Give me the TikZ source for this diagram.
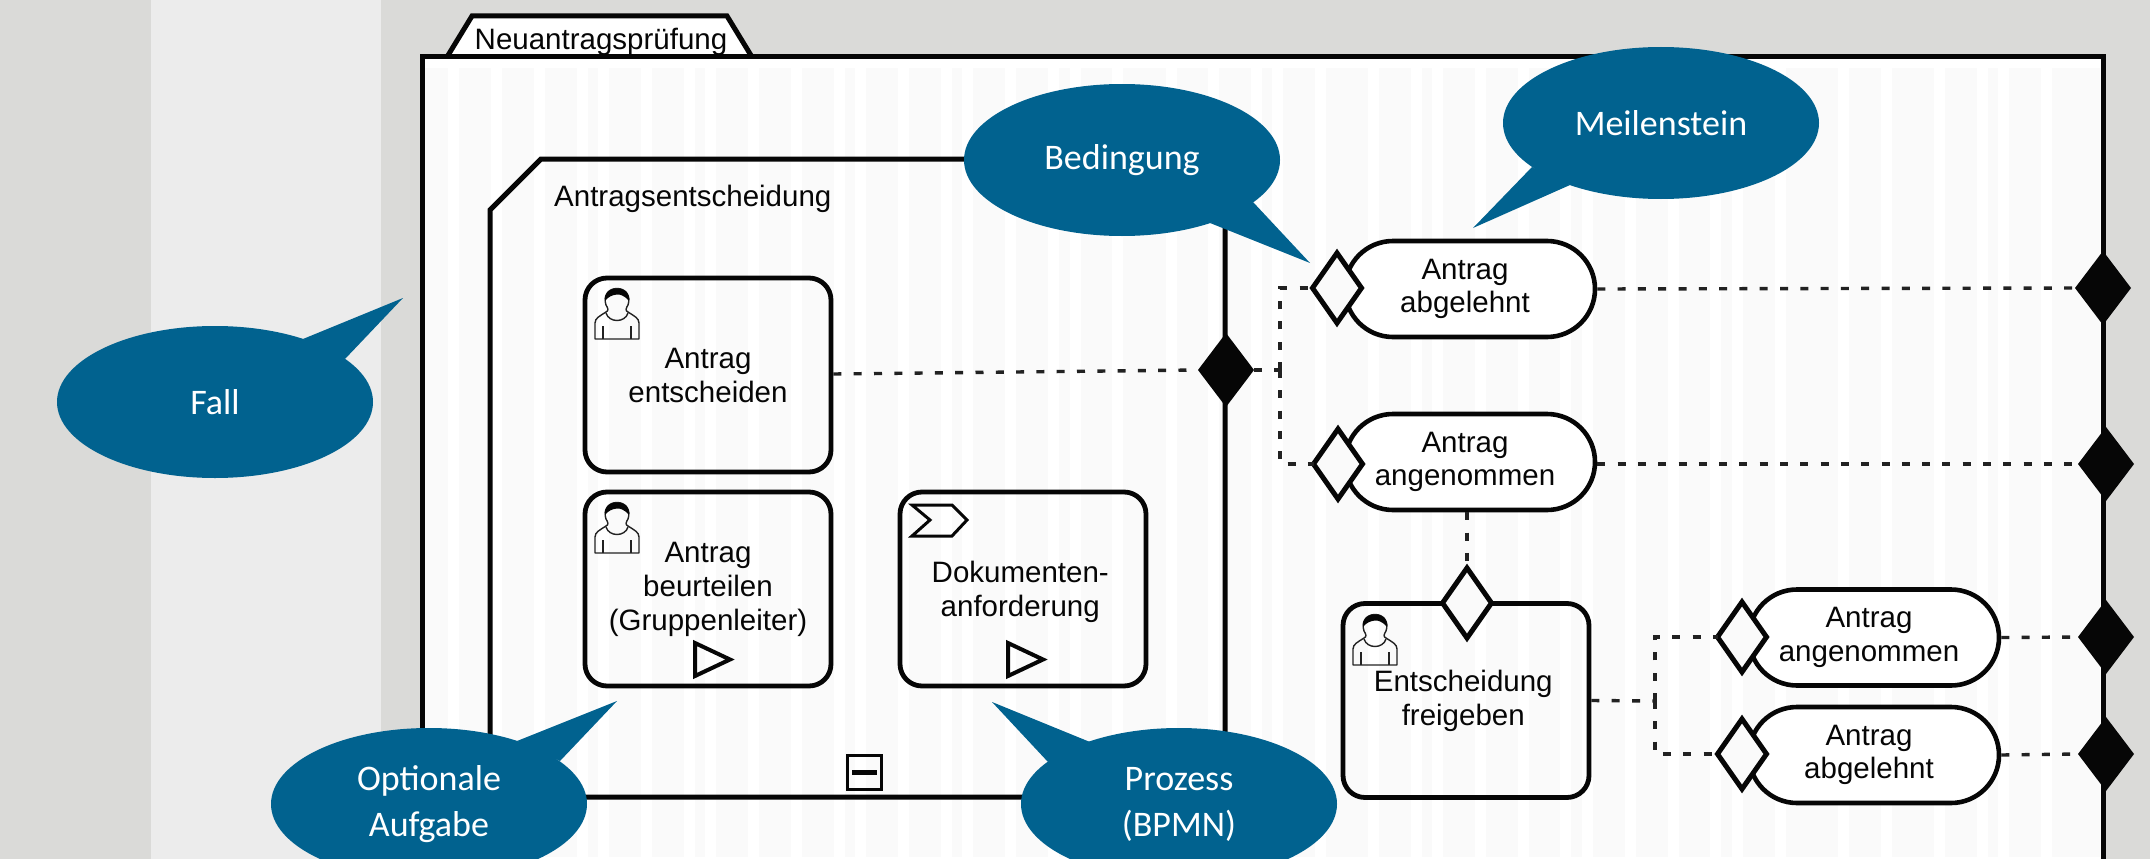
\documentclass[tikz,border=0pt]{standalone}
\usepackage{fontspec}
\setmainfont{Liberation Sans}
\newfontfamily\callfont{Carlito}
\usetikzlibrary{shapes.geometric,shapes.misc}
\definecolor{pagegrey}{HTML}{DADAD8}
\definecolor{bandgrey}{HTML}{ECECEC}
\definecolor{paper}{HTML}{FAFAFA}
\definecolor{callblue}{HTML}{01628F}
\definecolor{ink}{HTML}{060606}
\definecolor{dashink}{HTML}{222222}
\newcommand\lftpad{\hspace*{10pt}}
\newcommand\halfpad{\hspace*{5.5pt}}
\tikzset{
  heavy/.style={draw=ink,line width=5pt,line join=miter},
  taskbox/.style={draw=ink,line width=4.8pt,rectangle,rounded corners=22pt,minimum width=246pt,minimum height=194pt,
    inner sep=0pt,align=center,font=\fontsize{29.5}{34}\selectfont,text=ink},
  milestone/.style={draw=ink,line width=4.6pt,rounded rectangle,minimum width=250pt,minimum height=96pt,
    inner sep=0pt,align=center,font=\fontsize{29.5}{33.5}\selectfont,text=ink,fill=white},
  gateopen/.style={draw=ink,line width=5pt,diamond,fill=paper,minimum width=49pt,minimum height=70pt,inner sep=0pt,outer sep=0pt},
  gateblack/.style={fill=ink,diamond,minimum width=56pt,minimum height=74pt,inner sep=0pt,outer sep=0pt},
  dashline/.style={draw=dashink,line width=3.4pt,dash pattern=on 8pt off 12.3pt},
  bubble/.style={ellipse,fill=callblue,minimum width=316pt,minimum height=152pt,inner sep=0pt,outer sep=0pt,
    align=center,text=white,font=\callfont\fontsize{36}{46}\selectfont},
  tail/.style={fill=callblue},
  heading/.style={inner sep=0pt,font=\fontsize{29.5}{34}\selectfont,text=ink},
  person/.pic={
    \draw[draw=dashink,line width=1.4pt,fill=none,line join=round]
      (1,51) -- (1,35) .. controls (1,30) and (6,28) .. (12,24) .. controls (15,23) and (14,20) .. (12,17)
      .. controls (9,8) and (14,0.5) .. (23,0.5) .. controls (32,0.5) and (37,8) .. (34,17)
      .. controls (32,20) and (31,23) .. (34,24) .. controls (40,28) and (45,30) .. (45,35) -- (45,51) -- cycle;
    \fill[ink] (11,13) .. controls (10,5) and (15,0.5) .. (23,0.5) .. controls (31,0.5) and (36,5) .. (35,13)
      .. controls (31,8) and (26,6) .. (23,6.5) .. controls (18,7) and (14,9) .. (11,13) -- cycle;
    \draw[draw=dashink,line width=1.4pt] (12,25) .. controls (15,35) and (31,35) .. (34,25);
    \draw[draw=dashink,line width=1.4pt] (9,38) -- (9,51) (37,38) -- (37,51);
  },
  playmark/.pic={\draw[draw=ink,line width=4pt,line join=miter] (0,0) -- (0,33) -- (35,16.5) -- cycle;}
}
\begin{document}
\begin{tikzpicture}[x=1pt,y=-1pt]
\useasboundingbox (0,0) rectangle (2150,859);
\clip (0,0) rectangle (2150,859);
% page background
\fill[pagegrey] (0,0) rectangle (2150,859);
\fill[bandgrey] (151,0) rectangle (381,859);
% case frame with tab
\filldraw[heavy,fill=white] (447,57) -- (472,16) -- (727,16) -- (752,57) -- cycle;
\node[heading,anchor=base] (casetitle) at (601,50) {Neuantragsprüfung};
\fill[white] (422,57) rectangle (2103,870);
\fill[paper] (425,68) rectangle (2100,857);
\foreach \sx in {448,491,534,577,598,641,684,705,748,791,834,855,898,941,962,1005,1048,1070,1112,1166,1208,1251,1272,1315,1368,1411,1432,1475,1518,1560,1582,1625,1668,1710,1732,1775,1838,1881,1934,1977,1998,2041}
  \fill[white] (\sx,68) rectangle (\sx+11,857);
\draw[heavy] (422,870) -- (422,57) -- (2103,57) -- (2103,870);
% stage
\draw[heavy] (541,159) -- (490,210) -- (490,797) -- (1225,797) -- (1225,159) -- cycle;
\node[heading,anchor=base west] (stagetitle) at (554,206) {Antragsentscheidung};
\node[rectangle,draw=ink,line width=2.8pt,minimum width=34.5pt,minimum height=34.5pt,inner sep=0pt] (collapse) at (864.5,772.5) {};
\draw[draw=ink,line width=5pt] (852,772.5) -- (877,772.5);
% tasks
\node[taskbox] (t1) at (708,375) {Antrag\\entscheiden};
\node[taskbox] (t2) at (708,589) {Antrag\\beurteilen\\(Gruppenleiter)};
\node[taskbox,text height=62pt] (t3) at (1023,589) {Dokumenten-\halfpad\\anforderung\halfpad};
\node[taskbox] (t4) at (1466,700.5) {Entscheidung\halfpad\\freigeben\halfpad};
\pic at (594,288) {person};
\pic at (594,502) {person};
\pic at (1352,614) {person};
\pic at (695,643) {playmark};
\pic at (1008,643) {playmark};
\draw[draw=ink,line width=3pt,line join=miter] (912,505) -- (952,505) -- (967,520) -- (952,536) -- (912,536) -- (930,520) -- cycle;
% milestones
\node[milestone] (m1) at (1470,289) {Antrag\lftpad\\abgelehnt\lftpad};
\node[milestone] (m2) at (1470,462) {Antrag\lftpad\\angenommen\lftpad};
\node[milestone] (m3) at (1874,637.5) {Antrag\lftpad\\angenommen\lftpad};
\node[milestone] (m4) at (1874,755) {Antrag\lftpad\\abgelehnt\lftpad};
% sentries
\node[gateopen] (g1) at (1337,288) {};
\node[gateopen] (g2) at (1338,464) {};
\node[gateopen] (g3) at (1467,603) {};
\node[gateopen] (g4) at (1742,637) {};
\node[gateopen] (g5) at (1742,754) {};
\node[gateblack] (b0) at (1226,370) {};
\node[gateblack] (b1) at (2103,288) {};
\node[gateblack] (b2) at (2106,464) {};
\node[gateblack] (b3) at (2106,637) {};
\node[gateblack] (b4) at (2106,754) {};
% connectors
\coordinate (j1) at (1280,370);
\coordinate (j2) at (1655,701);
\draw[dashline] (t1.east |- 0,374) -- (b0.west);
\draw[dashline] (b0.east) -- (j1);
\draw[dashline] (j1) -- (j1 |- g1.west) -- (g1.west);
\draw[dashline] (j1) -- (j1 |- g2.west) -- (g2.west);
\draw[dashline] (m1.east) -- (b1.west);
\draw[dashline] (m2.east |- b2.west) -- (b2.west);
\draw[dashline] (m2.south -| g3.north) -- (g3.north);
\draw[dashline] (t4.east) -- (j2);
\draw[dashline] (j2) -- (j2 |- g4.west) -- (g4.west);
\draw[dashline] (j2) -- (j2 |- g5.west) -- (g5.west);
\draw[dashline] (m3.east) -- (b3.west);
\draw[dashline] (m4.east) -- (b4.west);
% callouts
\fill[tail] (403,298) -- (303,339) -- (345,359) -- cycle;
\node[bubble] (fall) at (215,402) {Fall};
\fill[tail] (617,701) -- (517,741) -- (560,761) -- cycle;
\node[bubble] (opt) at (429,804) {Optionale\\Aufgabe};
\fill[tail] (992,702) -- (1090,742) -- (1048,762) -- cycle;
\node[bubble] (proz) at (1179,804) {Prozess\\(BPMN)};
\fill[tail] (1310,263) -- (1210,223) -- (1253,202) -- cycle;
\node[bubble] (bed) at (1122,160) {Bedingung};
\fill[tail] (1473,228) -- (1532,167) -- (1570,185) -- cycle;
\node[bubble] (meil) at (1661,123) {Meilenstein};
\end{tikzpicture}
\end{document}
